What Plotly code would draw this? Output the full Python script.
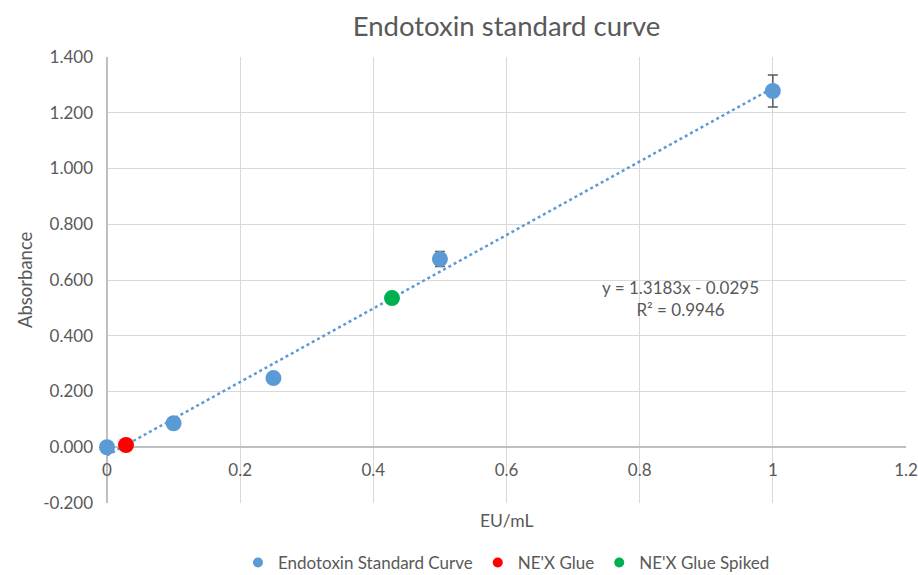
import plotly.graph_objects as go

# Standard curve readings
std_conc = [0, 0.1, 0.25, 0.5, 1.0]
std_abs = [0.000, 0.086, 0.248, 0.675, 1.278]
std_err = [0.002, 0.004, 0.005, 0.027, 0.057]

# Samples
glue_conc = [0.0285]
glue_abs = [0.008]
spiked_conc = [0.428]
spiked_abs = [0.535]

# Linear fit reported on the chart
slope = 1.3183
intercept = -0.0295
r_squared = 0.9946
fit_x = [0, 1.0]
fit_y = [slope * x + intercept for x in fit_x]

x_ticks = [0, 0.2, 0.4, 0.6, 0.8, 1.0, 1.2]
x_ticktext = ["0", "0.2", "0.4", "0.6", "0.8", "1", "1.2"]
y_ticks = [-0.2, 0, 0.2, 0.4, 0.6, 0.8, 1.0, 1.2, 1.4]
y_ticktext = ["-0.200", "0.000", "0.200", "0.400", "0.600",
              "0.800", "1.000", "1.200", "1.400"]

FONT = "Lato, 'Open Sans', sans-serif"
GREY = "#595959"
BLUE = "#5b9bd5"
RED = "#ff0000"
GREEN = "#00b050"

fig = go.Figure()

fig.add_trace(go.Scatter(
    x=fit_x, y=fit_y, mode="lines",
    line=dict(color=BLUE, width=2.5, dash="dot"),
    showlegend=False, hoverinfo="skip", cliponaxis=False,
))
fig.add_trace(go.Scatter(
    x=std_conc, y=std_abs, mode="markers",
    name="Endotoxin Standard Curve", legendgroup="std", showlegend=False,
    marker=dict(color=BLUE, size=16), cliponaxis=False,
    error_y=dict(type="data", array=std_err, visible=True,
                 color=GREY, thickness=1.5, width=5),
))
fig.add_trace(go.Scatter(
    x=glue_conc, y=glue_abs, mode="markers", name="NE'X Glue",
    legendgroup="glue", showlegend=False,
    marker=dict(color=RED, size=16), cliponaxis=False,
))
fig.add_trace(go.Scatter(
    x=spiked_conc, y=spiked_abs, mode="markers", name="NE'X Glue Spiked",
    legendgroup="spiked", showlegend=False,
    marker=dict(color=GREEN, size=16), cliponaxis=False,
))

# Legend entries with smaller symbols
for name, color, group in [("Endotoxin Standard Curve", BLUE, "std"),
                           ("NE'X Glue", RED, "glue"),
                           ("NE'X Glue Spiked", GREEN, "spiked")]:
    fig.add_trace(go.Scatter(
        x=[None], y=[None], mode="markers", name=name, legendgroup=group,
        marker=dict(color=color, size=10),
    ))

# Trendline equation
fig.add_annotation(
    x=0.861, y=0.533, xref="x", yref="y", showarrow=False,
    text=f"y = {slope:.4f}x - {abs(intercept):.4f}<br>R² = {r_squared:.4f}",
    font=dict(family=FONT, size=17, color=GREY), align="center",
)
# Axis titles
fig.add_annotation(
    x=0.5, y=-0.040, xref="paper", yref="paper", yanchor="middle",
    showarrow=False, text="EU/mL",
    font=dict(family=FONT, size=17.5, color=GREY),
)
fig.add_annotation(
    x=-0.1026, y=0.5, xref="paper", yref="paper", xanchor="center",
    yanchor="middle", textangle=-90, showarrow=False, text="Absorbance",
    font=dict(family=FONT, size=18.5, color=GREY),
)

fig.update_layout(
    width=918, height=575,
    margin=dict(l=107, r=12, t=57, b=72, autoexpand=False),
    paper_bgcolor="white", plot_bgcolor="white",
    font=dict(family=FONT, color=GREY, size=17),
    title=dict(text="Endotoxin standard curve", x=0.5, xref="paper",
               xanchor="center", y=0.955, yanchor="middle",
               font=dict(family=FONT, size=27.5, color=GREY)),
    xaxis=dict(
        range=[0, 1.2], tickvals=x_ticks, ticktext=x_ticktext,
        showgrid=True, gridcolor="#d9d9d9", gridwidth=1,
        zeroline=True, zerolinecolor="#bfbfbf", zerolinewidth=1.5,
        anchor="free", position=0.125, showline=False, automargin=False,
        ticks="", ticklabelstandoff=11,
        tickfont=dict(family=FONT, size=17, color=GREY),
    ),
    yaxis=dict(
        range=[-0.2, 1.4], tickvals=y_ticks, ticktext=y_ticktext,
        showgrid=True, gridcolor="#d9d9d9", gridwidth=1,
        zeroline=True, zerolinecolor="#bfbfbf", zerolinewidth=1.5,
        ticks="", ticklabelstandoff=13, automargin=False,
        tickfont=dict(family=FONT, size=17, color=GREY),
    ),
    legend=dict(orientation="h", x=0.5, xanchor="center",
                y=12 / 575, yref="container", yanchor="middle",
                font=dict(family=FONT, size=17, color=GREY),
                itemwidth=30, tracegroupgap=0),
)

fig.write_html("out.html")
